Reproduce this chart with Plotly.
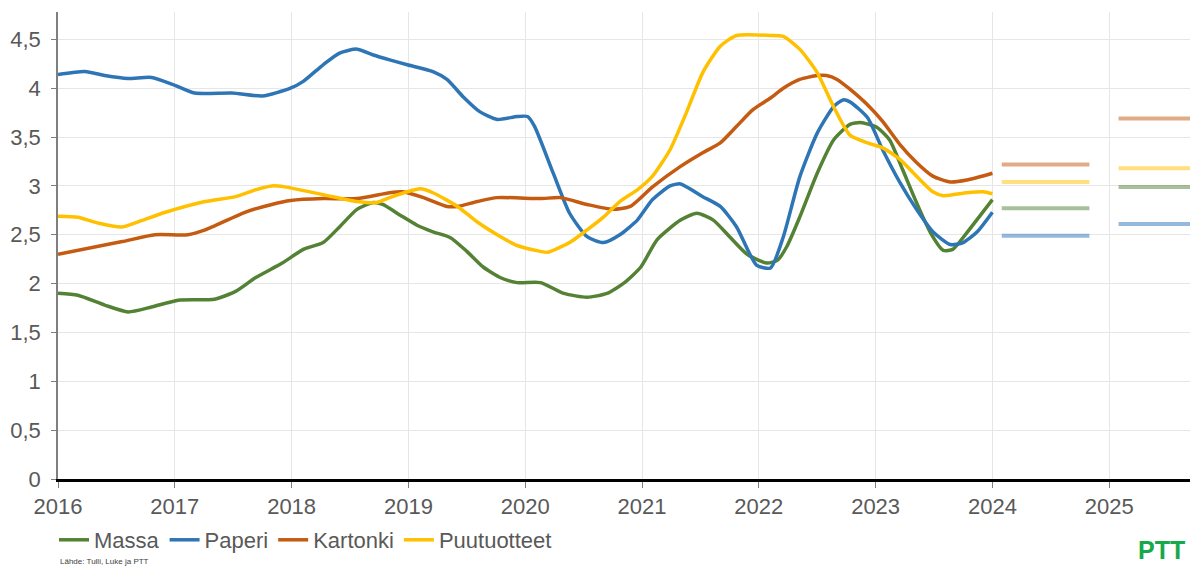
import plotly.graph_objects as go

# ---- data (decimal years, values) ----
massa_t = [2016.00, 2016.17, 2016.40, 2016.60, 2016.80, 2017.03, 2017.34, 2017.52, 2017.69, 2017.92,
           2018.10, 2018.27, 2018.41, 2018.56, 2018.70, 2018.78, 2018.93, 2019.07, 2019.21, 2019.36,
           2019.50, 2019.64, 2019.79, 2019.93, 2020.13, 2020.33, 2020.53, 2020.70, 2020.85, 2020.99,
           2021.13, 2021.33, 2021.47, 2021.61, 2021.75, 2021.90, 2022.07, 2022.16, 2022.24, 2022.35,
           2022.50, 2022.64, 2022.78, 2022.87, 2023.01, 2023.12, 2023.23, 2023.35, 2023.47, 2023.58,
           2023.66, 2023.78, 2024.00]
massa_v = [1.90, 1.88, 1.78, 1.71, 1.76, 1.83, 1.84, 1.92, 2.06, 2.21,
           2.35, 2.42, 2.58, 2.76, 2.83, 2.81, 2.70, 2.60, 2.53, 2.47,
           2.33, 2.17, 2.06, 2.01, 2.01, 1.90, 1.86, 1.90, 2.01, 2.17,
           2.45, 2.65, 2.72, 2.65, 2.48, 2.30, 2.21, 2.24, 2.38, 2.68,
           3.13, 3.47, 3.63, 3.65, 3.60, 3.47, 3.17, 2.83, 2.52, 2.34,
           2.35, 2.52, 2.86]

paperi_t = [2016.00, 2016.23, 2016.40, 2016.60, 2016.80, 2016.98, 2017.17, 2017.49, 2017.75, 2017.99,
            2018.10, 2018.27, 2018.41, 2018.56, 2018.70, 2018.84, 2018.99, 2019.21, 2019.33, 2019.47,
            2019.61, 2019.76, 2019.93, 2020.02, 2020.08, 2020.24, 2020.38, 2020.53, 2020.67, 2020.81,
            2020.96, 2021.09, 2021.24, 2021.33, 2021.52, 2021.67, 2021.81, 2021.98, 2022.10, 2022.21,
            2022.35, 2022.50, 2022.64, 2022.72, 2022.78, 2022.93, 2023.06, 2023.21, 2023.35, 2023.49,
            2023.64, 2023.75, 2023.87, 2024.00]
paperi_v = [4.14, 4.17, 4.13, 4.10, 4.11, 4.04, 3.95, 3.95, 3.92, 4.00,
            4.07, 4.24, 4.36, 4.40, 4.34, 4.29, 4.24, 4.17, 4.09, 3.91,
            3.76, 3.68, 3.71, 3.71, 3.61, 3.13, 2.72, 2.48, 2.42, 2.50,
            2.65, 2.86, 3.00, 3.02, 2.89, 2.79, 2.58, 2.19, 2.16, 2.48,
            3.09, 3.54, 3.81, 3.88, 3.86, 3.70, 3.37, 3.03, 2.76, 2.53,
            2.40, 2.42, 2.53, 2.73]

kartonki_t = [2016.00, 2016.55, 2016.83, 2017.11, 2017.26, 2017.60, 2017.83, 2017.99, 2018.27, 2018.56,
              2018.84, 2018.95, 2019.13, 2019.33, 2019.42, 2019.59, 2019.76, 2020.13, 2020.30, 2020.53,
              2020.75, 2020.90, 2021.09, 2021.33, 2021.52, 2021.67, 2021.81, 2021.95, 2022.10, 2022.21,
              2022.35, 2022.50, 2022.58, 2022.67, 2022.78, 2022.93, 2023.06, 2023.21, 2023.35, 2023.49,
              2023.64, 2023.78, 2024.00]
kartonki_v = [2.30, 2.43, 2.50, 2.50, 2.55, 2.73, 2.81, 2.85, 2.87, 2.87,
              2.93, 2.94, 2.88, 2.79, 2.79, 2.84, 2.88, 2.87, 2.88, 2.81,
              2.76, 2.79, 2.99, 3.20, 3.34, 3.44, 3.61, 3.78, 3.90, 4.00,
              4.09, 4.13, 4.13, 4.09, 3.99, 3.83, 3.66, 3.42, 3.24, 3.10,
              3.04, 3.06, 3.13]

puu_t = [2016.00, 2016.17, 2016.34, 2016.55, 2016.68, 2016.92, 2017.26, 2017.52, 2017.69, 2017.83,
         2017.94, 2018.27, 2018.56, 2018.73, 2018.84, 2018.99, 2019.10, 2019.21, 2019.42, 2019.59,
         2019.76, 2019.93, 2020.13, 2020.19, 2020.38, 2020.53, 2020.67, 2020.81, 2020.96, 2021.09,
         2021.24, 2021.38, 2021.52, 2021.67, 2021.81, 2022.10, 2022.21, 2022.35, 2022.50, 2022.64,
         2022.78, 2022.93, 2023.06, 2023.21, 2023.35, 2023.49, 2023.58, 2023.78, 2023.92, 2024.00]
puu_v = [2.69, 2.68, 2.62, 2.58, 2.63, 2.73, 2.84, 2.89, 2.96, 3.00,
         2.99, 2.91, 2.84, 2.83, 2.88, 2.94, 2.97, 2.93, 2.79, 2.63,
         2.50, 2.39, 2.33, 2.32, 2.42, 2.55, 2.68, 2.84, 2.96, 3.10,
         3.37, 3.75, 4.16, 4.43, 4.54, 4.54, 4.53, 4.40, 4.16, 3.81,
         3.52, 3.44, 3.39, 3.27, 3.10, 2.94, 2.90, 2.93, 2.94, 2.92]

# forecasts (2024, 2025)
forecast_years = [2024, 2025]
massa_fc = [2.77, 2.99]
paperi_fc = [2.49, 2.61]
kartonki_fc = [3.22, 3.69]
puu_fc = [3.04, 3.18]

series_names = ["Massa", "Paperi", "Kartonki", "Puutuotteet"]
colors = ["#548235", "#2E75B6", "#C55A11", "#FFC000"]
year_ticks = list(range(2016, 2026))
y_ticks = [0, 0.5, 1, 1.5, 2, 2.5, 3, 3.5, 4, 4.5]

fig = go.Figure()
series = [(massa_t, massa_v, massa_fc), (paperi_t, paperi_v, paperi_fc),
          (kartonki_t, kartonki_v, kartonki_fc), (puu_t, puu_v, puu_fc)]

# forecast segments first (behind)
for (t, v, fc), name, col in zip(series, series_names, colors):
    for yr, val in zip(forecast_years, fc):
        fig.add_trace(go.Scatter(
            x=[yr + 0.08, yr + 0.83], y=[val, val], mode="lines",
            line=dict(color=col, width=4), opacity=0.5,
            showlegend=False, hoverinfo="skip"))

for (t, v, fc), name, col in zip(series, series_names, colors):
    fig.add_trace(go.Scatter(
        x=t, y=v, mode="lines", name=name,
        line=dict(color=col, width=3.5, shape="spline", smoothing=0.6)))

font_fam = "Liberation Sans, Arial, sans-serif"
fig.update_layout(
    width=1190, height=558,
    margin=dict(l=50, r=0, t=4, b=87, autoexpand=False),
    paper_bgcolor="white", plot_bgcolor="white",
    separators=", ",
    font=dict(family=font_fam, size=22, color="#595959"),
    xaxis=dict(range=[2016, 2025.76], tickvals=year_ticks,
               ticktext=[str(y) for y in year_ticks],
               showgrid=True, gridcolor="#e6e6e6", gridwidth=1,
               showline=True, linecolor="black", linewidth=3,
               ticks="outside", ticklen=6, tickcolor="#7f7f7f", tickwidth=1,
               tickfont=dict(size=22, color="#595959"), zeroline=False, automargin=False),
    yaxis=dict(range=[0, 4.78], tickvals=y_ticks,
               showgrid=True, gridcolor="#e6e6e6", gridwidth=1,
               showline=True, linecolor="#7f7f7f", linewidth=1.5,
               ticks="outside", ticklen=5, tickcolor="#7f7f7f", ticklabelstandoff=6,
               tickfont=dict(size=22, color="#595959"), zeroline=False, automargin=False),
    legend=dict(orientation="h", x=-0.0035, xanchor="left", y=-0.1306, yanchor="middle",
                font=dict(size=22, color="#595959"), itemwidth=30,
                bgcolor="rgba(0,0,0,0)", tracegroupgap=0),
    showlegend=True,
)

fig.add_annotation(text="Lähde: Tulli, Luke ja PTT", xref="paper", yref="paper",
                   x=0.0, y=-0.1635, xanchor="left", yanchor="top", showarrow=False,
                   font=dict(size=8, color="#404040", family=font_fam))
fig.add_annotation(text="<b>PTT</b>", xref="paper", yref="paper",
                   x=0.99, y=-0.186, xanchor="right", yanchor="bottom", showarrow=False,
                   font=dict(size=25, color="#17A84A", family=font_fam))

fig.write_html("out.html")
